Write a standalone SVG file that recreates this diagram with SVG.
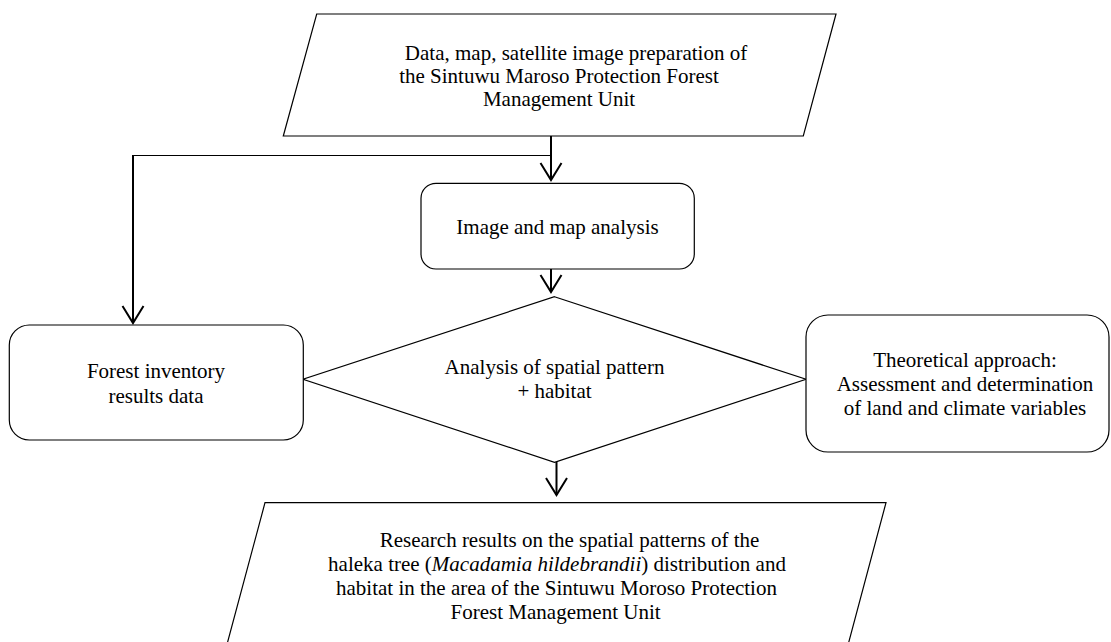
<svg xmlns="http://www.w3.org/2000/svg" width="1111" height="642" viewBox="0 0 1111 642">
<defs>
<style>
.shape{fill:#fff;stroke:#000;stroke-width:1.2}
.conn{fill:none;stroke:#000;stroke-width:2}
.thin{fill:none;stroke:#000;stroke-width:1}
text{font-family:"Liberation Serif","Times New Roman",serif;font-size:21px;fill:#000;text-anchor:middle}
</style>
<marker id="arr" markerUnits="userSpaceOnUse" markerWidth="40" markerHeight="40" refX="0" refY="0" orient="auto" overflow="visible">
<path d="M -17 -10.5 L 0 0 L -17 10.5" fill="none" stroke="#000" stroke-width="2"/>
</marker>
</defs>
<rect width="1111" height="642" fill="#fff"/>
<g id="connectors">
<line class="thin" x1="133" y1="155.5" x2="551" y2="155.5"/>
<line class="conn" x1="551" y1="136" x2="551" y2="180" marker-end="url(#arr)"/>
<line class="conn" x1="133" y1="155" x2="133" y2="323" marker-end="url(#arr)"/>
<line class="conn" x1="551" y1="269" x2="551" y2="292" marker-end="url(#arr)"/>
<line class="conn" x1="556.5" y1="462" x2="556.5" y2="495" marker-end="url(#arr)"/>
</g>
<g id="node-data">
<polygon class="shape" points="316.7,14 836,14 803.3,136 283.3,136"/>
<text x="576" y="60">Data, map, satellite image preparation of</text>
<text x="559" y="83">the Sintuwu Maroso Protection Forest</text>
<text x="559" y="106">Management Unit</text>
</g>
<g id="node-image">
<rect class="shape" x="421" y="183.3" width="273.3" height="85.7" rx="15"/>
<text x="557.5" y="234">Image and map analysis</text>
</g>
<g id="node-analysis">
<polygon class="shape" points="554.5,296.7 806,379.3 554.5,462.3 303,379.3"/>
<text x="554.5" y="374">Analysis of spatial pattern</text>
<text x="554.5" y="398">+ habitat</text>
</g>
<g id="node-forest">
<rect class="shape" x="9.3" y="325" width="294" height="115" rx="20"/>
<text x="156" y="378">Forest inventory</text>
<text x="156" y="402.5">results data</text>
</g>
<g id="node-theory">
<rect class="shape" x="806" y="315" width="303" height="137" rx="22"/>
<text x="965" y="366.5">Theoretical approach:</text>
<text x="965" y="390.5">Assessment and determination</text>
<text x="965" y="414.5">of land and climate variables</text>
</g>
<g id="node-results">
<polygon class="shape" points="265,502.7 886,502.7 844,660 222.8,660"/>
<text x="569.5" y="547">Research results on the spatial patterns of the</text>
<text x="557" y="571">haleka tree (<tspan font-style="italic">Macadamia hildebrandii</tspan>) distribution and</text>
<text x="556.5" y="595">habitat in the area of the Sintuwu Moroso Protection</text>
<text x="555.6" y="619">Forest Management Unit</text>
</g>
</svg>
